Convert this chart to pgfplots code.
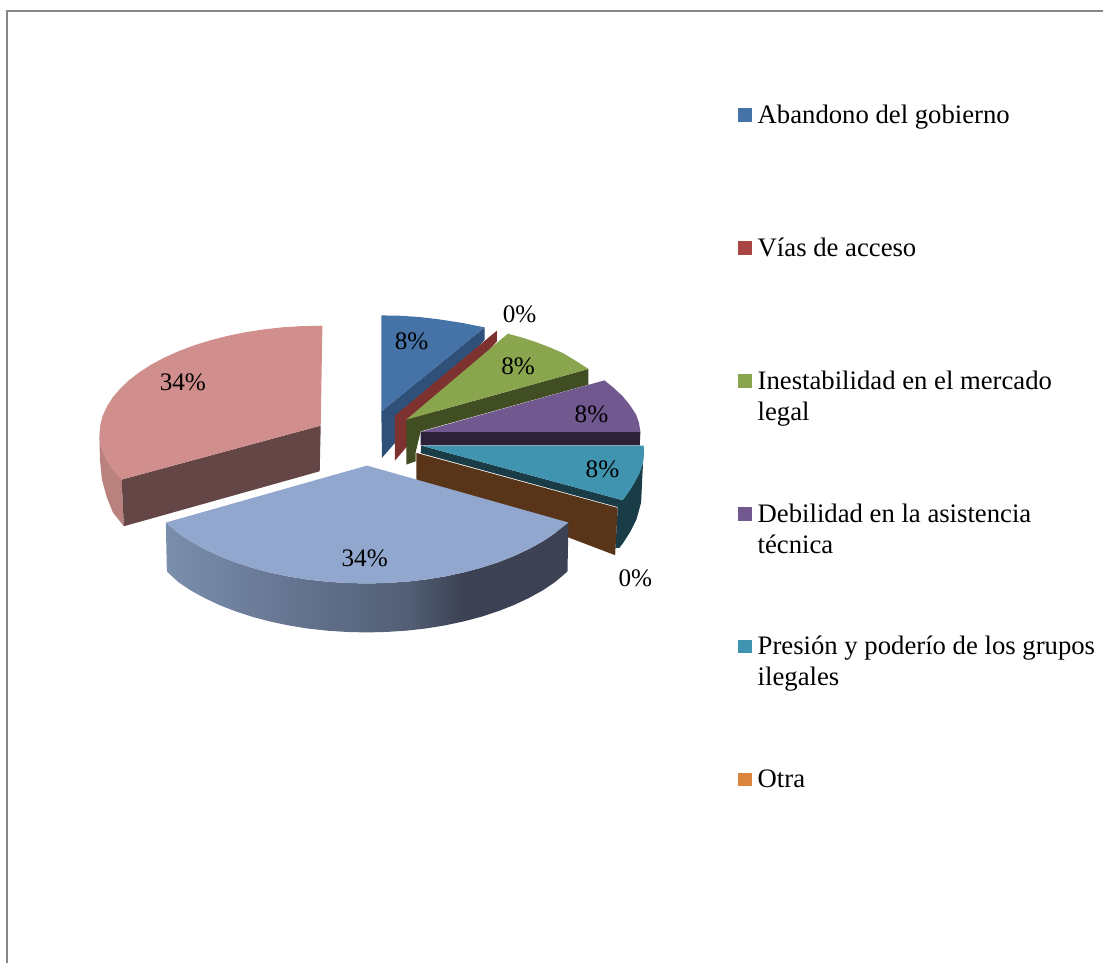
\documentclass[border=0pt]{standalone}
\usepackage{pgfplots}
\pgfplotsset{compat=1.18}
\usepackage{fontspec}
\setmainfont{Liberation Serif}
\definecolor{bluetop}{RGB}{69,114,167}
\definecolor{blueside}{RGB}{47,80,120}
\definecolor{redside}{RGB}{125,50,48}
\definecolor{redleg}{RGB}{170,70,67}
\definecolor{greentop}{RGB}{137,165,78}
\definecolor{greenside}{RGB}{65,78,35}
\definecolor{purpletop}{RGB}{113,88,143}
\definecolor{purpleside}{RGB}{44,33,56}
\definecolor{tealtop}{RGB}{65,148,175}
\definecolor{tealside}{RGB}{25,60,70}
\definecolor{brownside}{RGB}{88,53,25}
\definecolor{orangeleg}{RGB}{219,132,61}
\definecolor{pinktop}{RGB}{208,143,140}
\definecolor{pinkfront}{RGB}{100,70,70}
\definecolor{pinkside}{RGB}{185,130,127}
\definecolor{bigtop}{RGB}{146,167,206}
\definecolor{framegray}{RGB}{134,134,134}
\pgfdeclarehorizontalshading{bigside}{100bp}{
  rgb(0bp)=(0.478,0.561,0.678);
  rgb(25bp)=(0.478,0.561,0.678);
  rgb(40bp)=(0.40,0.46,0.57);
  rgb(55bp)=(0.32,0.37,0.46);
  rgb(62bp)=(0.235,0.259,0.325);
  rgb(75bp)=(0.235,0.259,0.325);
  rgb(100bp)=(0.235,0.259,0.325)}
\begin{document}
\begin{tikzpicture}
\begin{axis}[
  hide axis, scale only axis, width=552pt, height=482pt,
  xmin=0, xmax=1104, ymin=0, ymax=964, y dir=reverse,
  clip=false, no markers,
  every axis plot/.append style={draw=none, line width=0pt}
]
% page extent
\addplot[draw=none] coordinates {(0,0) (1104,0) (1104,964) (0,964)};
% frame
\addplot[draw=framegray, line width=1pt] coordinates {(7.5,964) (7.5,11.5) (1104,11.5)};
% blue slice 8%
\addplot[fill=blueside] coordinates {(381.7,411.7) (485,327.7) (485,340) (382.3,458.3)};
\addplot[fill=bluetop] coordinates {(381.7,411.7) (381.7,315.7) (400,316) (420,317.3) (440,319.7) (463,323.3) (485,327.7)};
% red slice 0%
\addplot[fill=redside] coordinates {(395.3,416) (497.3,331) (497.3,341.7) (395.3,461)};
% green slice 8%
\addplot[fill=greenside] coordinates {(406.7,420) (589,369.3) (589,385) (421,431.7) (416,453) (416,461.7) (406.7,465)};
\addplot[fill=greentop] coordinates {(406.7,420) (508.3,334) (523,338) (536.7,342.5) (550,347.5) (563.3,353.3) (576,361) (589,369.3)};
% purple slice 8%
\addplot[fill=purpleside] coordinates {(421,432.3) (641,432.3) (640.3,445.7) (421,445.7)};
\addplot[fill=purpletop] coordinates {(421,432.3) (605,380.7) (614,388) (623.3,396.7) (630.5,405.5) (636.7,415) (639.5,423) (641,432.3)};
% teal slice 8%
\addplot[fill=tealside] coordinates {(644.3,452) (643,475) (641.7,503) (637,520) (631,532) (624,543) (620,548.3) (616,548.3) (618.3,507.5) (421,453.5) (421.7,446) (623.3,500.7) (635,483) (643,465)};
\addplot[fill=tealtop] coordinates {(421.7,446) (644.3,446) (644.5,455) (643,465) (640,474) (635,483.3) (630,491.5) (623.3,500.7)};
% brown slice 0%
\addplot[fill=brownside] coordinates {(416.7,453.3) (618.3,508.3) (615.7,555.7) (416.7,480)};
% pink slice 34%
\addplot[fill=pinkside] coordinates {(99.5,437) (100,460) (102,480) (107,498) (113,513) (124,526.7) (121.7,480)};
\addplot[fill=pinkfront] coordinates {(121.7,480) (321,426) (320,471.7) (124,526.7)};
\addplot[fill=pinktop] coordinates {(321,426) (322.7,326) (302.2,326.4) (282.9,327.6) (264,329.7) (245.6,332.5) (227.6,336.2) (210.5,340.6) (194.1,345.7) (178.8,351.5) (164.5,357.9) (151.4,364.9) (139.7,372.4) (129.2,380.5) (120.4,388.9) (112.8,397.7) (107.1,406.8) (102.8,416) (100.4,425.5) (99.5,435) (100.4,444) (102.8,452.9) (107.1,461.7) (112.8,470.2) (121.7,480)};
% big blue slice 34%
\addplot[shading=bigside] coordinates {(166,523) (178.6,533.7) (190.8,541.9) (204.4,549.4) (219.2,556.4) (235,562.6) (252,568.2) (269.7,572.9) (288.3,576.9) (307.4,580) (327,582.2) (347,583.5) (367,584) (387,583.5) (407,582.2) (426.6,580) (445.7,576.9) (464.3,572.9) (482,568.2) (499,562.6) (514.8,556.4) (529.6,549.4) (543.2,541.9) (555.4,533.7) (569,523) (568,572) (555.4,582.7) (543.2,590.9) (529.6,598.4) (514.8,605.4) (499,611.6) (482,617.2) (464.3,621.9) (445.7,625.9) (426.6,629) (407,631.2) (387,632.5) (367,633) (347,632.5) (327,631.2) (307.4,629) (288.3,625.9) (269.7,621.9) (252,617.2) (235,611.6) (219.2,605.4) (204.4,598.4) (190.8,590.9) (178.6,582.7) (167,572)};
\addplot[fill=bigtop] coordinates {(367.3,466) (166,523) (178.6,533.7) (190.8,541.9) (204.4,549.4) (219.2,556.4) (235,562.6) (252,568.2) (269.7,572.9) (288.3,576.9) (307.4,580) (327,582.2) (347,583.5) (367,584) (387,583.5) (407,582.2) (426.6,580) (445.7,576.9) (464.3,572.9) (482,568.2) (499,562.6) (514.8,556.4) (529.6,549.4) (543.2,541.9) (555.4,533.7) (569,523)};
% legend keys
\addplot[fill=bluetop] coordinates {(739,108.3) (753,108.3) (753,122) (739,122)};
\addplot[fill=redleg] coordinates {(739,241.3) (753,241.3) (753,255) (739,255)};
\addplot[fill=greentop] coordinates {(739,374.3) (753,374.3) (753,388) (739,388)};
\addplot[fill=purpletop] coordinates {(739,507.3) (753,507.3) (753,521) (739,521)};
\addplot[fill=tealtop] coordinates {(739,640.3) (753,640.3) (753,654) (739,654)};
\addplot[fill=orangeleg] coordinates {(739,773.3) (753,773.3) (753,787) (739,787)};
% data labels and legend text
\begin{scope}[every node/.style={inner sep=0pt, font=\fontsize{12.6}{15}\selectfont}]
\node at (axis cs:412,342) {8\%};
\node at (axis cs:520,315) {0\%};
\node at (axis cs:518.5,367) {8\%};
\node at (axis cs:592,415) {8\%};
\node at (axis cs:603,470) {8\%};
\node at (axis cs:636,579) {0\%};
\node at (axis cs:365,559) {34\%};
\node at (axis cs:183,383) {34\%};
\end{scope}
\begin{scope}[every node/.style={inner sep=0pt, anchor=base west, font=\fontsize{13.36}{15}\selectfont}]
\node at (axis cs:758,123.5) {Abandono del gobierno};
\node at (axis cs:758,256.5) {Vías de acceso};
\node at (axis cs:758,389.5) {Inestabilidad en el mercado};
\node at (axis cs:758,420.5) {legal};
\node at (axis cs:758,522.5) {Debilidad en la asistencia};
\node at (axis cs:758,553.5) {técnica};
\node at (axis cs:758,655.5) {Presión y poderío de los grupos};
\node at (axis cs:758,686.5) {ilegales};
\node at (axis cs:758,788.5) {Otra};
\end{scope}
\end{axis}
\end{tikzpicture}
\end{document}
